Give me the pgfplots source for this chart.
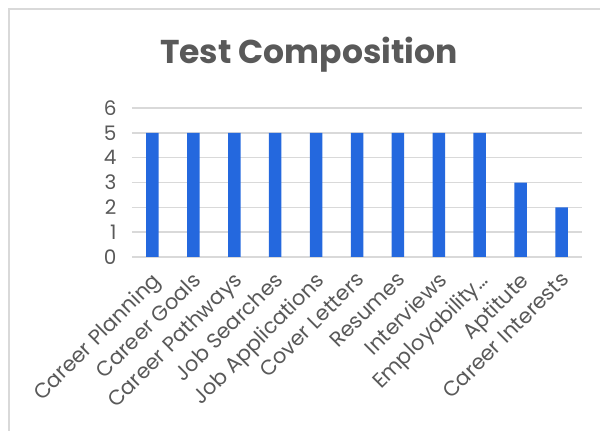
\documentclass[border=0pt]{standalone}
\usepackage{fontspec}
\setmainfont{Poppins}
\usepackage{pgfplots}
\pgfplotsset{compat=1.18}
\definecolor{barblue}{HTML}{2468DE}
\definecolor{gridgray}{HTML}{D9D9D9}
\definecolor{textgray}{HTML}{595959}
\begin{document}
\begin{tikzpicture}[x=1pt,y=1pt]
\path[use as bounding box] (0,0) rectangle (600,431);
\draw[gridgray, line width=2pt] (8.5,0) -- (8.5,422) -- (600,422);
\node[text=textgray, font=\fontsize{33}{38}\selectfont\bfseries] at (309,376) {Test Composition};
\begin{axis}[
  at={(132pt,174pt)}, anchor=south west,
  scale only axis, width=450pt, height=149pt,
  xmin=-0.5, xmax=10.5, ymin=0, ymax=6,
  ytick={0,1,2,3,4,5,6},
  xtick={0,...,10},
  xticklabels={Career Planning,Career Goals,Career Pathways,Job Searches,Job Applications,Cover Letters,Resumes,Interviews,Employability\ldots,Aptitute,Career Interests},
  x tick label style={rotate=45, anchor=north east, font=\fontsize{21}{24}\selectfont, text=textgray, inner sep=1pt, yshift=-7pt, xshift=-10pt},
  y tick label style={font=\fontsize{20}{22}\selectfont, text=textgray},
  yticklabel style={xshift=-12pt},
  /pgf/number format/assume math mode=true,
  axis line style={draw=none},
  major tick length=0pt,
  ymajorgrids, grid style={gridgray, line width=1.5pt},
  ybar, bar width=12.5pt,
]
\addplot[fill=barblue, draw=none] coordinates {(0,5) (1,5) (2,5) (3,5) (4,5) (5,5) (6,5) (7,5) (8,5) (9,3) (10,2)};
\end{axis}
\end{tikzpicture}
\end{document}
